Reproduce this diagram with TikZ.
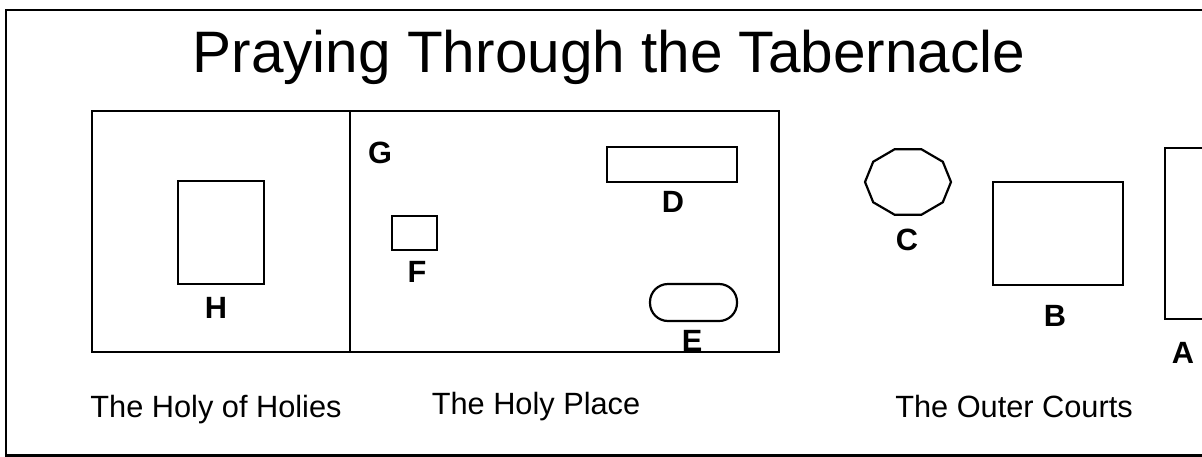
\documentclass[tikz,border=0pt]{standalone}
\usepackage{fontspec}
\setmainfont{Liberation Sans}
\usepackage{tikz}
\tikzset{
  wall/.style    ={draw=black, line width=1.25pt},
  furn/.style    ={draw=black, line width=1.25pt},
  letter/.style  ={font=\fontsize{17.5}{20}\selectfont\bfseries, anchor=base, inner sep=0pt},
  caption/.style ={font=\fontsize{17.5}{20}\selectfont, anchor=base, inner sep=0pt},
  heading/.style ={font=\fontsize{33.3}{40}\selectfont, anchor=base, inner sep=0pt},
}
\begin{document}
\begin{tikzpicture}[x=0.02cm, y=-0.02cm]
\useasboundingbox (0,0) rectangle (1202,456);
\clip (0,0) rectangle (1202,456);
% ---- frame and title
\draw[wall] (6,10) rectangle (1230,455.5);
\node[heading] (title) at (609,72) {Praying Through the Tabernacle};

% ---- tent: holy of holies | holy place
\draw[wall] (92,111) rectangle (779,352);
\draw[wall] (350,111) -- (350,352);

% ---- furniture inside
\draw[furn] (178,181) rectangle (264,284);   % ark
\node[letter] (H) at (216,318) {H};
\node[letter] (G) at (380,163) {G};
\draw[furn] (392,216) rectangle (437,250);   % incense altar
\node[letter] (F) at (417,282) {F};
\draw[furn] (607,147) rectangle (737,182);   % table
\node[letter] (D) at (673,212) {D};
\draw[furn, rounded corners=0.36cm] (650,284) rectangle (737,321); % lampstand
\node[letter] (E) at (692,351) {E};

% ---- outer courts
\draw[furn] plot[samples at={0,36,...,324}] ({908+43*cos(\x)},{182+34.5*sin(\x)}) -- cycle; % laver
\node[letter] (C) at (907,250) {C};
\draw[furn] (993,182) rectangle (1123,285);  % altar
\node[letter] (B) at (1055,326) {B};
\draw[furn] (1165,148) rectangle (1240,319); % gate
\node[letter] (A) at (1183,363) {A};

% ---- captions
\node[caption] (hoh)   at (216,417) {The Holy of Holies};
\node[caption] (place) at (536,414) {The Holy Place};
\node[caption] (court) at (1014,417) {The Outer Courts};
\end{tikzpicture}
\end{document}
